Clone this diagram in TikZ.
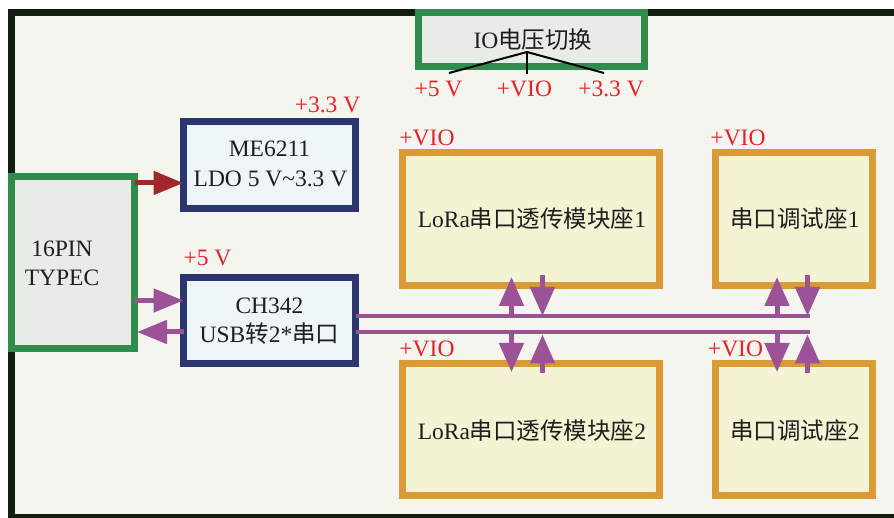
\documentclass[tikz,border=0pt]{standalone}
\usepackage{fontspec}
\setmainfont{Liberation Serif}
\newfontfamily\cjk{Noto Sans CJK SC}
\usetikzlibrary{arrows.meta}
\definecolor{bgc}{RGB}{243,245,238}
\definecolor{framec}{RGB}{18,30,15}
\definecolor{grn}{RGB}{47,140,76}
\definecolor{gfill}{RGB}{232,236,230}
\definecolor{blu}{RGB}{43,53,112}
\definecolor{bfill}{RGB}{238,245,248}
\definecolor{org}{RGB}{218,155,55}
\definecolor{ofill}{RGB}{244,243,211}
\definecolor{pur}{RGB}{155,82,150}
\definecolor{dred}{RGB}{160,40,45}
\definecolor{rtxt}{RGB}{232,32,42}
\definecolor{txtc}{RGB}{30,30,30}
\begin{document}
\begin{tikzpicture}[x=1pt,y=-1pt,
  box/.style={rectangle,line width=7pt,inner sep=0pt,outer sep=0pt},
  gbox/.style={box,draw=grn,fill=gfill},
  bbox/.style={box,draw=blu,fill=bfill},
  obox/.style={box,draw=org,fill=ofill},
  txt/.style={inner sep=0pt,text=txtc,font=\fontsize{23.5}{29}\selectfont,anchor=base},
  lbl/.style={inner sep=0pt,text=rtxt,font=\fontsize{23.5}{29}\selectfont,anchor=base},
  rarr/.style={draw=dred,line width=5pt,-{Triangle[width=23pt,length=30pt]}},
  harr/.style={draw=pur,line width=5pt,-{Triangle[width=23pt,length=30pt]}},
  varr/.style={draw=pur,line width=5pt,-{Triangle[width=24pt,length=29pt]}},
  bus/.style={draw=pur,line width=4pt},
  branch/.style={draw=black,line width=2pt,line join=round}
]
\useasboundingbox (0,0) rectangle (894,518);
\clip (0,0) rectangle (894,518);
\fill[bgc] (11,12) rectangle (894,517);
\draw[framec,line width=6.5pt] (894,12.5) -- (11.25,12.5) -- (11.25,517) -- (894,517);

% boxes
\node[gbox,minimum width=226pt,minimum height=54pt] (io) at (531.5,39.5) {};
\node[gbox,minimum width=123pt,minimum height=172pt] (typec) at (73,262.5) {};
\node[bbox,minimum width=172pt,minimum height=87pt] (me) at (269.5,165) {};
\node[bbox,minimum width=172pt,minimum height=86pt] (ch) at (269.5,320.5) {};
\node[obox,minimum width=257pt,minimum height=133pt] (lora1) at (531,219) {};
\node[obox,minimum width=257pt,minimum height=132pt] (lora2) at (531,429.5) {};
\node[obox,minimum width=157pt,minimum height=133pt] (ser1) at (794,219) {};
\node[obox,minimum width=157pt,minimum height=132pt] (ser2) at (794,429.5) {};

% texts
\node[txt] (iot) at (533,49) {IO{\cjk 电压切换}};
\node[txt] (typect1) at (62,257) {16PIN};
\node[txt] (typect2) at (62,286) {TYPEC};
\node[txt] (met1) at (269.5,157) {ME6211};
\node[txt] (met2) at (270.5,186.5) {LDO 5 V\char"7E 3.3 V};
\node[txt] (cht1) at (269.5,314) {CH342};
\node[txt] (cht2) at (269.5,343) {USB{\cjk 转}2*{\cjk 串口}};
\node[txt] (lora1t) at (532,228) {LoRa{\cjk 串口透传模块座}1};
\node[txt] (lora2t) at (532,439) {LoRa{\cjk 串口透传模块座}2};
\node[txt] (ser1t) at (795,228) {{\cjk 串口调试座}1};
\node[txt] (ser2t) at (795,439) {{\cjk 串口调试座}2};

% red labels
\node[lbl] (l5) at (438.5,97) {+5 V};
\node[lbl] (lvio) at (524.5,97) {+VIO};
\node[lbl] (l33) at (611,97) {+3.3 V};
\node[lbl] (me33) at (327.5,113) {+3.3 V};
\node[lbl] (ch5) at (207.5,266) {+5 V};
\node[lbl] (vl1) at (427,146) {+VIO};
\node[lbl] (vs1) at (738,146) {+VIO};
\node[lbl] (vl2) at (427,357) {+VIO};
\node[lbl] (vs2) at (735.5,357) {+VIO};

% IO branch
\coordinate (apex) at (527,52);
\coordinate (bl) at (449,73);
\coordinate (bm) at (527,74);
\coordinate (br) at (604,73);
\draw[branch] (bl) -- (apex) -- (br);
\draw[branch] (apex) -- (bm);

% power / usb arrows
\coordinate (r0) at ([yshift=-6.5pt]typec.north east);
\draw[rarr] (r0) -- (r0 -| me.west);
\coordinate (p1) at ([yshift=20pt]ch.west);
\draw[harr] (p1 -| typec.east) -- (p1);
\coordinate (p2) at ([yshift=-11.5pt]ch.west);
\draw[harr,shorten >=2.5pt] (p2) -- (p2 -| typec.east);

% bus
\coordinate (b1) at (810,316);
\coordinate (b2) at (810,332.5);
\draw[bus] (ch.east |- b1) -- (b1);
\draw[bus] (ch.east |- b2) -- (b2);

\coordinate (xa) at (511.5,0);
\coordinate (xb) at (542.5,0);
\coordinate (xc) at (777,0);
\coordinate (xd) at (807.5,0);

\draw[varr,shorten >=-8.5pt] (xa |- b1) -- (xa |- lora1.south);
\draw[varr,shorten <=-10.5pt] (xb |- lora1.south) -- (xb |- b1);
\draw[varr,shorten >=-8.5pt] (xa |- b2) -- (xa |- lora2.north);
\draw[varr,shorten <=-9.5pt,shorten >=2pt] (xb |- lora2.north) -- (xb |- b2);

\draw[varr,shorten >=-8.5pt] (xc |- b1) -- (xc |- ser1.south);
\draw[varr,shorten <=-10.5pt] (xd |- ser1.south) -- (xd |- b1);
\draw[varr,shorten >=-8.5pt] (xc |- b2) -- (xc |- ser2.north);
\draw[varr,shorten <=-9.5pt,shorten >=2pt] (xd |- ser2.north) -- (xd |- b2);
\end{tikzpicture}
\end{document}
